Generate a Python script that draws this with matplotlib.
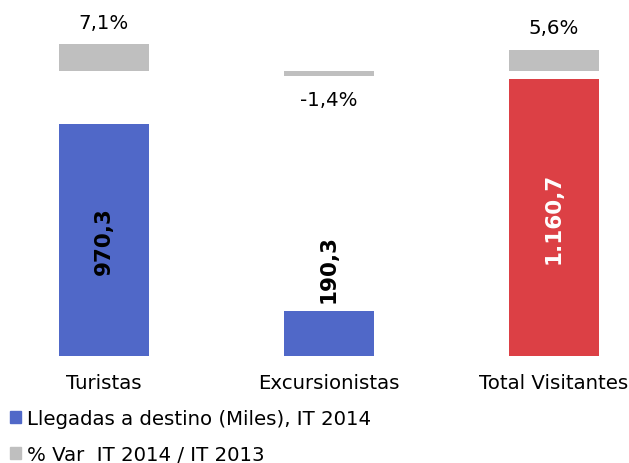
import matplotlib
matplotlib.use("Agg")
import matplotlib.pyplot as plt
from matplotlib.patches import Patch

plt.rcParams['font.family'] = ['DejaVu Sans']

categories = ["Turistas", "Excursionistas", "Total Visitantes"]
llegadas = [970.3, 190.3, 1160.7]
var_pct = [7.1, -1.4, 5.6]
llegadas_labels = ["970,3", "190,3", "1.160,7"]
var_labels = ["7,1%", "-1,4%", "5,6%"]
legend_labels = ["Llegadas a destino (Miles), IT 2014", "% Var  IT 2014 / IT 2013"]

blue = "#5068C8"
red = "#DC4045"
gray = "#BFBFBF"
bar_colors = [blue, blue, red]

FS = 14.2
FSB = 15.5

W, H = 629, 464
fig = plt.figure(figsize=(W / 100, H / 100), dpi=100)

def fy(py):
    return (H - py) / H

xlim = (-104 / 225, (W - 104) / 225)

ax = fig.add_axes([0, fy(357), 1, (357 - 80) / H])
ax.set_xlim(*xlim)
ax.set_ylim(0, max(llegadas))
x = list(range(len(categories)))
ax.bar(x, llegadas, width=0.4, color=bar_colors)
ax.axis('off')
for i, (v, lab) in enumerate(zip(llegadas, llegadas_labels)):
    if v > 400:
        ax.text(i, v / 2, lab, rotation=90, ha='center', va='center',
                fontsize=FSB, fontweight='bold',
                color='white' if bar_colors[i] == red else 'black')
    else:
        ax.annotate(lab, (i, v), xytext=(0, 6), textcoords='offset points',
                    rotation=90, ha='center', va='bottom', fontsize=FSB,
                    fontweight='bold', color='black')
    ax.annotate(categories[i], (i, 0), xytext=(0, -12), textcoords='offset points',
                ha='center', va='top', fontsize=FS, color='black')

ax2 = fig.add_axes([0, fy(80), 1, 40 / H])
ax2.patch.set_alpha(0)
ax2.set_xlim(*xlim)
ax2.set_ylim(-8 / 3.8, 32 / 3.8)
ax2.bar(x, var_pct, width=0.4, color=gray)
ax2.axis('off')
for i, (v, lab) in enumerate(zip(var_pct, var_labels)):
    if v >= 0:
        ax2.annotate(lab, (i, v), xytext=(0, 9), textcoords='offset points',
                     ha='center', va='bottom', fontsize=FS, annotation_clip=False)
    else:
        ax2.annotate(lab, (i, v), xytext=(0, -10), textcoords='offset points',
                     ha='center', va='top', fontsize=FS, annotation_clip=False)

handles = [Patch(color=blue), Patch(color=gray)]
fig.legend(handles, legend_labels, loc='lower left', bbox_to_anchor=(-0.006, -0.032),
           frameon=False, fontsize=FS, handlelength=0.55, handleheight=0.55,
           handletextpad=0.3, labelspacing=0.85, borderaxespad=0.3)

fig.savefig("out.png", dpi=100)
